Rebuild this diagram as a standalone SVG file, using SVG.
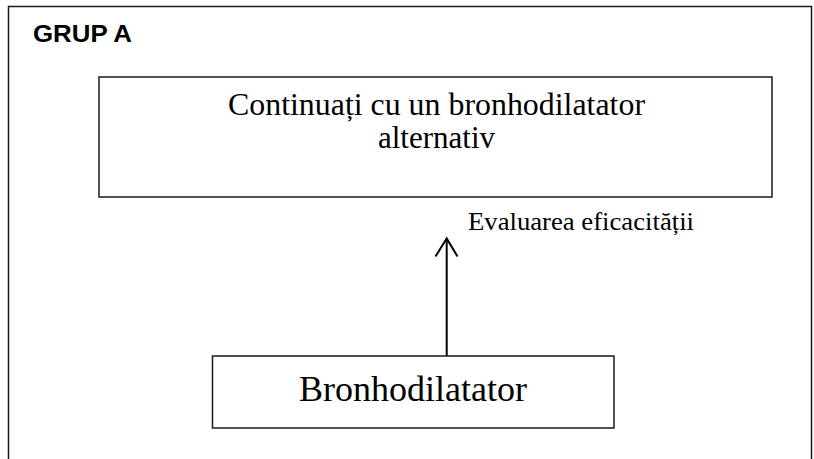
<svg xmlns="http://www.w3.org/2000/svg" width="814" height="459" viewBox="0 0 814 459">
  <style>
    .box { fill: #ffffff; stroke: #1a1a1a; stroke-width: 1.5; }
    .serif { font-family: "Liberation Serif", "Times New Roman", serif; fill: #000; }
    .conn { stroke: #000; stroke-width: 2; fill: none; }
  </style>
  <rect width="814" height="459" fill="#ffffff"/>
  <!-- group frame -->
  <g id="frame">
    <rect x="8.5" y="6.5" width="803" height="460" class="box"/>
    <text x="33" y="42" font-family="Liberation Sans, Arial, sans-serif" font-weight="bold" font-size="23" textLength="99" lengthAdjust="spacingAndGlyphs">GRUP A</text>
  </g>
  <g id="node-alternativ">
    <rect x="99" y="77" width="673" height="120" class="box"/>
    <text class="serif" font-size="31" text-anchor="middle" x="436.5" y="115" textLength="417" lengthAdjust="spacingAndGlyphs">Continuați cu un bronhodilatator</text>
    <text class="serif" font-size="31" text-anchor="middle" x="436.5" y="148">alternativ</text>
  </g>
  <g id="node-bronhodilatator">
    <rect x="212.5" y="356" width="401.5" height="72" class="box"/>
    <text class="serif" font-size="36" text-anchor="middle" x="413" y="401">Bronhodilatator</text>
  </g>
  <g id="connectors">
    <line x1="446.7" y1="356" x2="446.7" y2="239" class="conn"/>
    <polyline points="435.5,256.5 446.7,238.5 457.5,256.5" class="conn"/>
    <text class="serif" font-size="25" x="468" y="230" textLength="226" lengthAdjust="spacingAndGlyphs">Evaluarea eficacității</text>
  </g>
</svg>
